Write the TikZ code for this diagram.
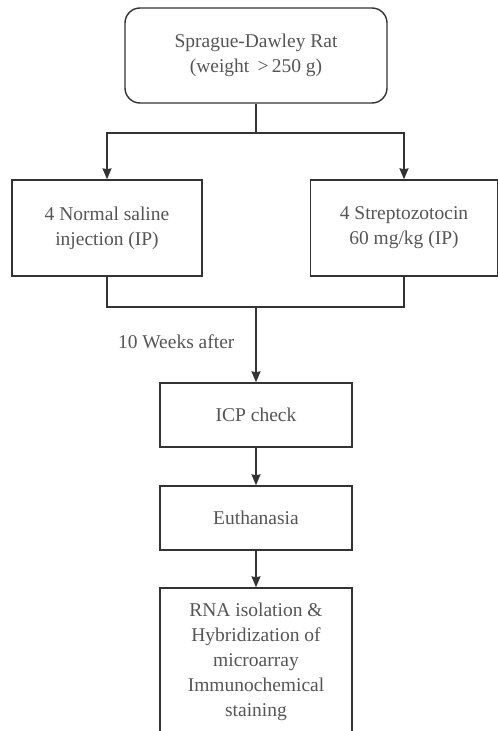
\documentclass[tikz,border=0pt]{standalone}
\usepackage{fontspec}
\setmainfont{Liberation Serif}
\usetikzlibrary{arrows.meta}

\definecolor{linegray}{HTML}{333333}
\definecolor{textgray}{HTML}{555555}

\tikzset{
  stepbox/.style={draw=linegray, line width=1.4pt, text=textgray, align=center,
    font=\fontsize{19.5}{25}\selectfont},
  flow/.style={draw=linegray, line width=1.4pt, -{Stealth[length=11pt,width=9pt,inset=1pt]}},
  link/.style={draw=linegray, line width=1.4pt}
}

\begin{document}
\begin{tikzpicture}[x=1pt, y=-1pt, line join=miter]
  \useasboundingbox (0,0) rectangle (498,731);
  \node[stepbox, rounded corners=15pt, minimum width=262pt, minimum height=95pt] (rat) at (256,55.5)
    {Sprague-Dawley Rat\\(weight \,>\,250 g)};
  \node[stepbox, minimum width=190pt, minimum height=96pt] (saline) at (107,228)
    {4 Normal saline\\injection (IP)};
  \node[stepbox, minimum width=187pt, minimum height=96pt] (stz) at (404,228)
    {4 Streptozotocin\\60 mg/kg (IP)};
  \node[stepbox, minimum width=192pt, minimum height=64pt] (icp) at (256,415) {ICP check};
  \node[stepbox, minimum width=192pt, minimum height=64pt] (euth) at (256,518) {Euthanasia};
  \node[stepbox, minimum width=192pt, minimum height=148pt] (rna) at (256,662)
    {RNA isolation \&\\Hybridization of\\microarray\\Immunochemical\\staining};

  \coordinate (split) at (256,133);
  \coordinate (join) at (256,307);

  \draw[link] (rat.south) -- (split);
  \draw[flow] (split) -| (saline.north);
  \draw[flow] (split) -| (stz.north);
  \draw[link] (saline.south) |- (join);
  \draw[link] (stz.south) |- (join);
  \draw[flow] (join) -- (icp.north);
  \node[text=textgray, font=\fontsize{19.5}{25}\selectfont, anchor=east] (after) at (238,342) {10 Weeks after};
  \draw[flow] (icp) -- (euth);
  \draw[flow] (euth) -- (rna);
\end{tikzpicture}
\end{document}
